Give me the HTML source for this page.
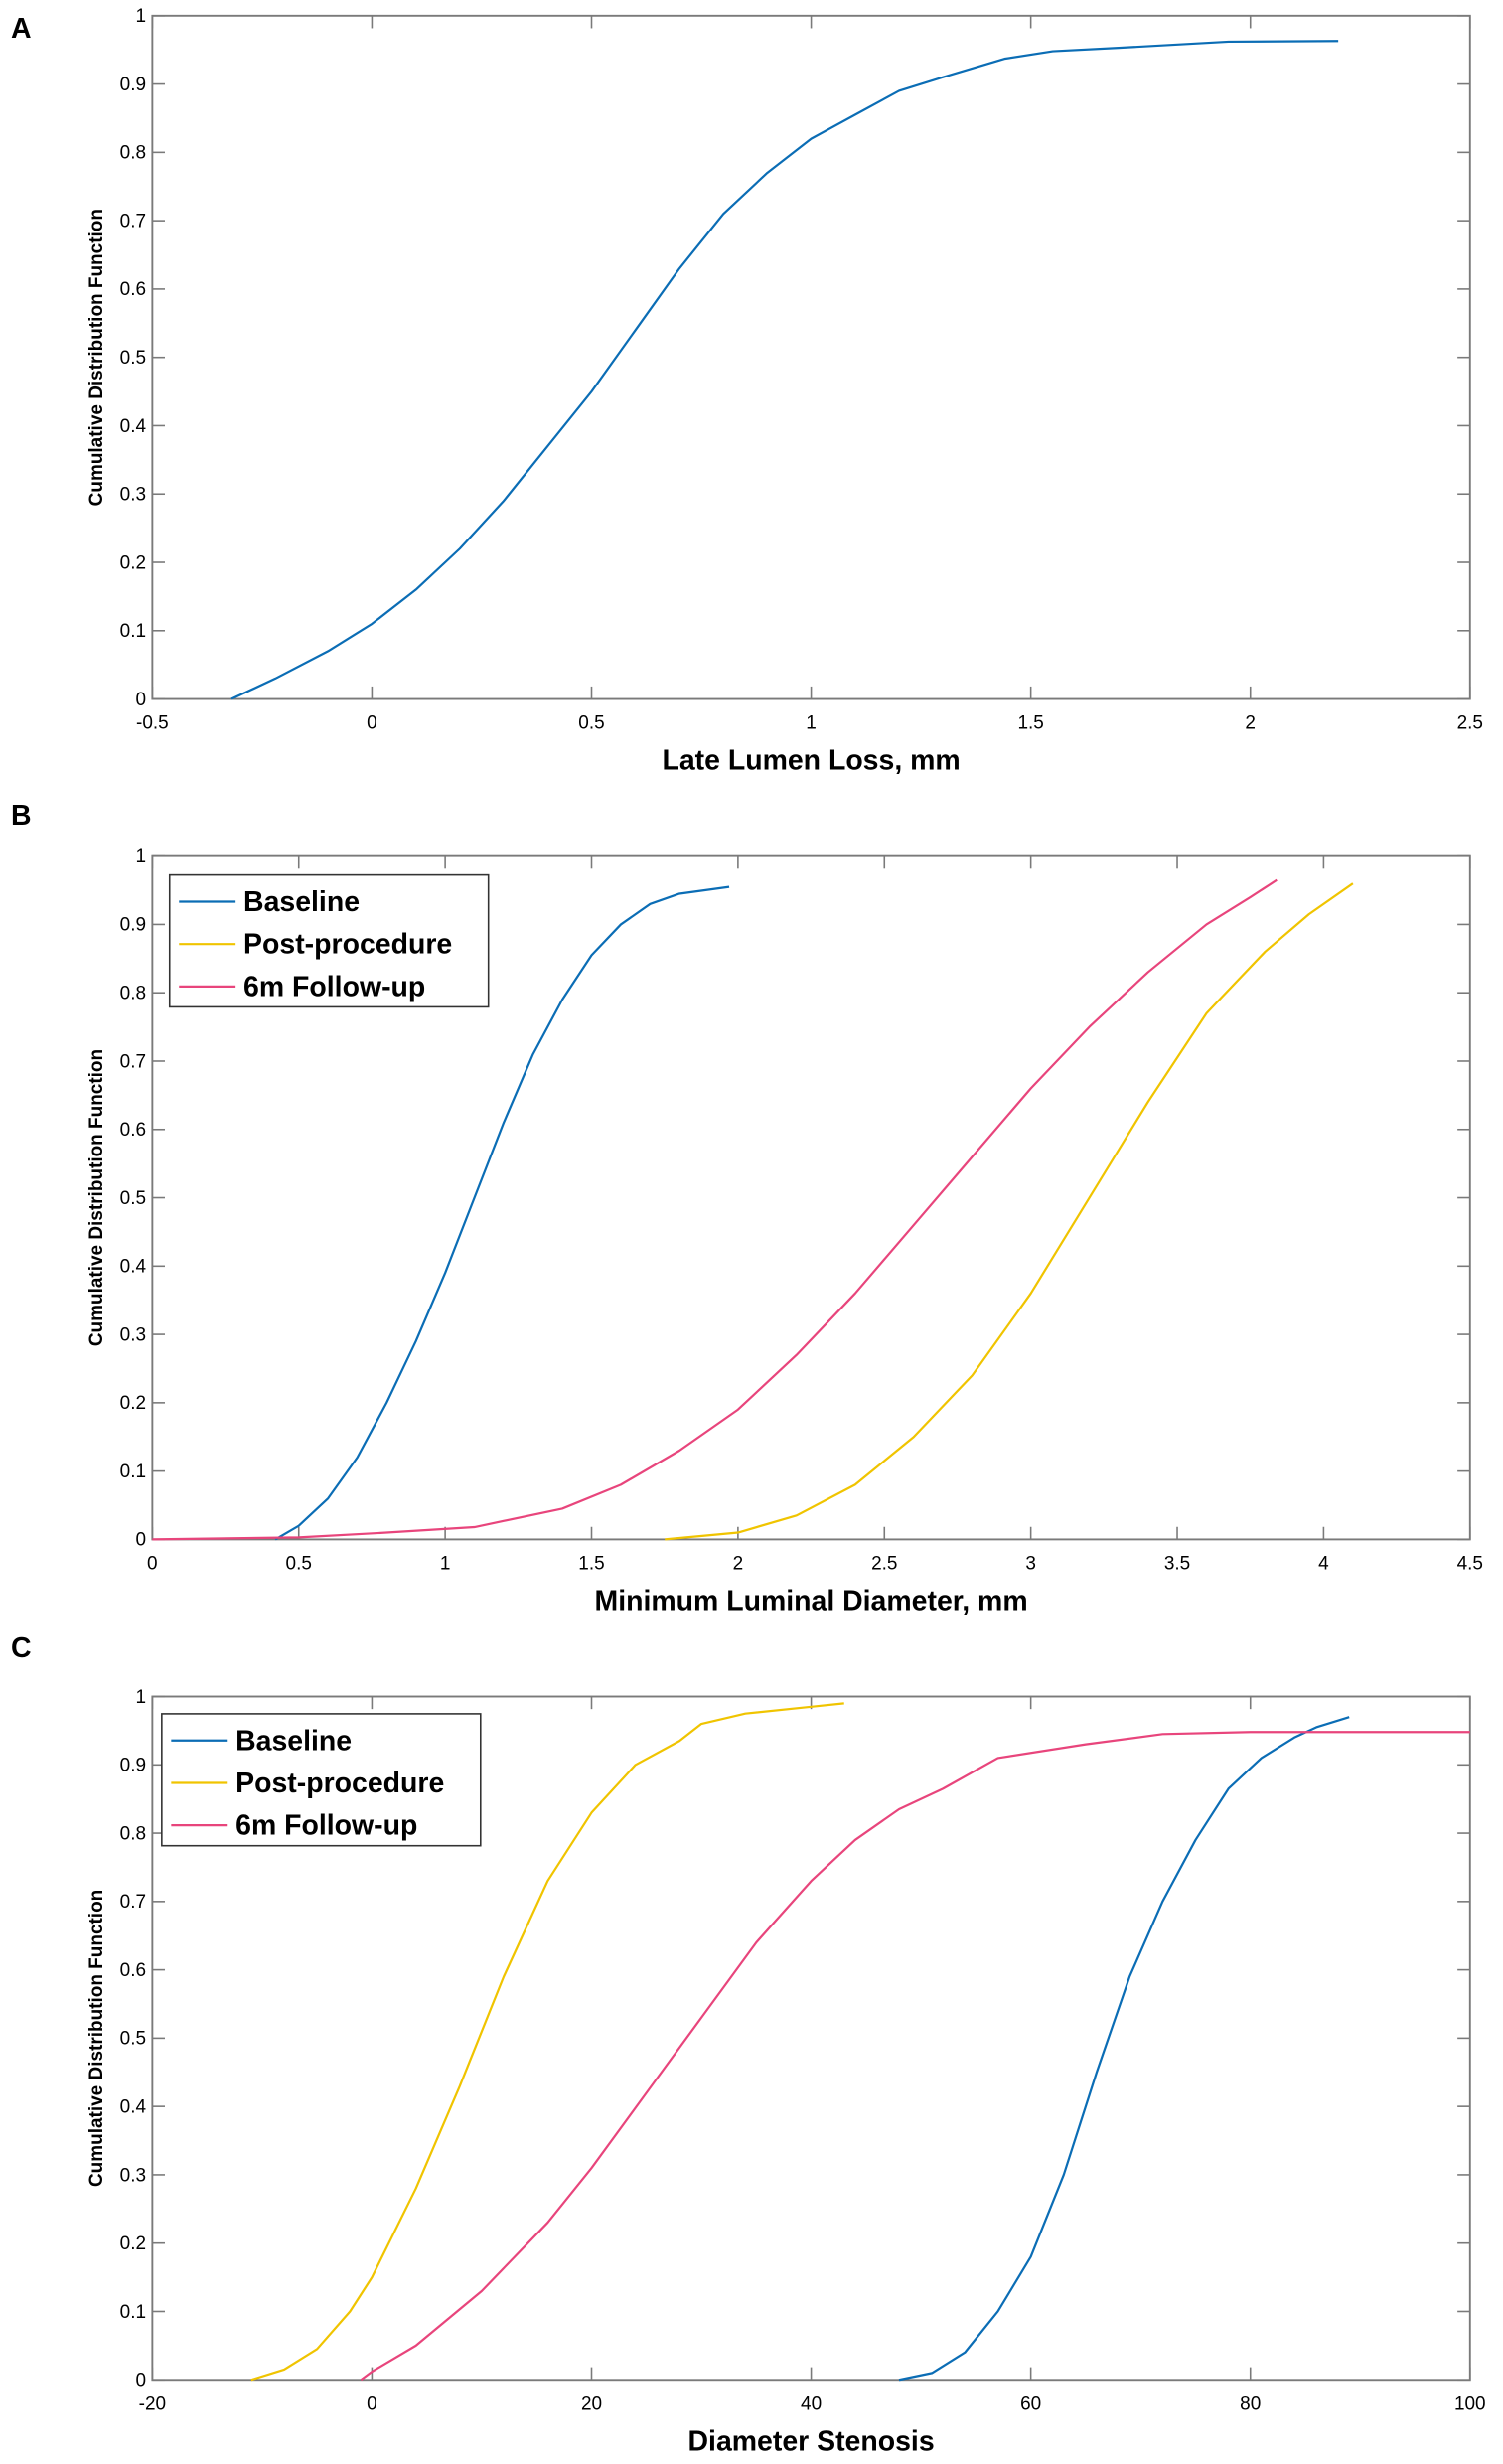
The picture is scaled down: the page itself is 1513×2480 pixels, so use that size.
<!DOCTYPE html>
<html><head><meta charset="utf-8"><style>
html,body{margin:0;padding:0;background:#fff;}
svg{display:block;font-family:"Liberation Sans",Arial,sans-serif;}
</style></head><body>
<svg id="fig" width="1513" height="2480" viewBox="0 0 957 1568.6" preserveAspectRatio="none" xmlns="http://www.w3.org/2000/svg"></svg>
<script>
// Panel A data
const aX = [-0.32,-0.22,-0.1,0,0.1,0.2,0.3,0.4,0.5,0.6,0.7,0.8,0.9,1.0,1.1,1.2,1.3,1.44,1.55,1.7,1.95,2.2];
const aY = [0,0.03,0.07,0.11,0.16,0.22,0.29,0.37,0.45,0.54,0.63,0.71,0.77,0.82,0.855,0.89,0.91,0.937,0.948,0.953,0.962,0.963];
const aXTicks = [-0.5,0,0.5,1,1.5,2,2.5];
// Panel B data
const bBaseX = [0.42,0.5,0.6,0.7,0.8,0.9,1.0,1.1,1.2,1.3,1.4,1.5,1.6,1.7,1.8,1.97];
const bBaseY = [0,0.02,0.06,0.12,0.2,0.29,0.39,0.5,0.61,0.71,0.79,0.855,0.9,0.93,0.945,0.955];
const bPostX = [1.75,2.0,2.2,2.4,2.6,2.8,3.0,3.2,3.4,3.6,3.8,3.95,4.1];
const bPostY = [0,0.01,0.035,0.08,0.15,0.24,0.36,0.5,0.64,0.77,0.86,0.915,0.96];
const bFollowX = [0,0.5,0.8,1.1,1.4,1.6,1.8,2.0,2.2,2.4,2.6,2.8,3.0,3.2,3.4,3.6,3.75,3.84];
const bFollowY = [0,0.003,0.01,0.018,0.045,0.08,0.13,0.19,0.27,0.36,0.46,0.56,0.66,0.75,0.83,0.9,0.94,0.965];
const bXTicks = [0,0.5,1,1.5,2,2.5,3,3.5,4,4.5];
// Panel C data
const cBaseX = [48,51,54,57,60,63,66,69,72,75,78,81,84,86,89];
const cBaseY = [0,0.01,0.04,0.1,0.18,0.3,0.45,0.59,0.7,0.79,0.865,0.91,0.94,0.955,0.97];
const cPostX = [-11,-8,-5,-2,0,4,8,12,16,20,24,28,30,34,40,43];
const cPostY = [0,0.015,0.045,0.1,0.15,0.28,0.43,0.59,0.73,0.83,0.9,0.935,0.96,0.975,0.985,0.99];
const cFollowX = [-1,0,4,10,16,20,25,30,35,40,44,48,52,57,65,72,80,100];
const cFollowY = [0,0.012,0.05,0.13,0.23,0.31,0.42,0.53,0.64,0.73,0.79,0.835,0.865,0.91,0.93,0.945,0.948,0.948];
const cXTicks = [-20,0,20,40,60,80,100];
const yTicks = [0,0.1,0.2,0.3,0.4,0.5,0.6,0.7,0.8,0.9,1];
const seriesNames = ["Baseline","Post-procedure","6m Follow-up"];

const NS="http://www.w3.org/2000/svg";
const svg=document.getElementById('fig');
const BLUE="#0b6db5", YEL="#f0c400", PINK="#e8457c", AX="#7a7a7a";
function mk(tag,attrs,parent){const e=document.createElementNS(NS,tag);for(const k in attrs)e.setAttribute(k,attrs[k]);(parent||svg).appendChild(e);return e;}

function panel(id,letter,letterY,top,xmin,xmax,xTicks,xTitle,series,legend){
  const L=97,R=936,T=top,B=top+435;
  const g=mk('g',{});
  
  
  const sx=v=>L+(v-xmin)/(xmax-xmin)*(R-L);
  const sy=v=>B-v*(B-T);
  const lt=mk('text',{x:7,y:letterY,'font-size':18,'font-weight':'bold'},g);lt.textContent=letter;
  
  
  const box=mk('rect',{x:L,y:T,width:R-L,height:B-T,fill:'none',stroke:AX,'stroke-width':1.2},g);
  
  
  yTicks.forEach(v=>{
    const y=sy(v);
    mk('line',{x1:L,x2:L+8,y1:y,y2:y,stroke:AX,'stroke-width':1},g);
    mk('line',{x1:R,x2:R-8,y1:y,y2:y,stroke:AX,'stroke-width':1},g);
    const t=mk('text',{x:L-4,y:y+4,'font-size':12,'text-anchor':'end'},g);t.textContent=String(v);
    
    
  });
  xTicks.forEach(v=>{
    const x=sx(v);
    mk('line',{x1:x,x2:x,y1:B,y2:B-8,stroke:AX,'stroke-width':1},g);
    mk('line',{x1:x,x2:x,y1:T,y2:T+8,stroke:AX,'stroke-width':1},g);
    const t=mk('text',{x:x,y:B+19,'font-size':12,'text-anchor':'middle'},g);t.textContent=String(v);
    
    
  });
  const yt=mk('text',{x:0,y:0,'font-size':12,'font-weight':'bold','text-anchor':'middle',transform:`translate(65,${(T+B)/2}) rotate(-90)`},g);
  yt.textContent='Cumulative Distribution Function';
  
  
  const xt=mk('text',{x:(L+R)/2,y:B+45,'font-size':18,'font-weight':'bold','text-anchor':'middle'},g);
  xt.textContent=xTitle;
  
  
  series.forEach(s=>{
    const d=s.x.map((v,i)=>(i?'L':'M')+sx(v).toFixed(2)+','+sy(s.y[i]).toFixed(2)).join(' ');
    const p=mk('path',{d:d,fill:'none',stroke:s.c,'stroke-width':1.4,'stroke-linejoin':'round'},g);
    
    
  });
  if(legend){
    const lg=mk('g',{},g);
    
    
    mk('rect',{x:legend.x,y:legend.y,width:203,height:84,fill:'#fff',stroke:'#333','stroke-width':1},lg);
    [BLUE,YEL,PINK].forEach((c,i)=>{
      const yy=legend.y+17+i*27;
      mk('line',{x1:legend.x+6,x2:legend.x+42,y1:yy,y2:yy,stroke:c,'stroke-width':1.4},lg);
      const t=mk('text',{x:legend.x+47,y:yy+6,'font-size':18,'font-weight':'bold'},lg);t.textContent=seriesNames[i];
      
      
    });
  }
}
panel('a','A',24,10,-0.5,2.5,aXTicks,'Late Lumen Loss, mm',[{x:aX,y:aY,c:BLUE,n:'late-lumen-loss-line'}],null);
panel('b','B',525,545,0,4.5,bXTicks,'Minimum Luminal Diameter, mm',[
  {x:bBaseX,y:bBaseY,c:BLUE,n:'baseline-line'},
  {x:bPostX,y:bPostY,c:YEL,n:'post-procedure-line'},
  {x:bFollowX,y:bFollowY,c:PINK,n:'follow-up-line'}],{x:108,y:557});
panel('c','C',1055,1080,-20,100,cXTicks,'Diameter Stenosis',[
  {x:cBaseX,y:cBaseY,c:BLUE,n:'baseline-line'},
  {x:cPostX,y:cPostY,c:YEL,n:'post-procedure-line'},
  {x:cFollowX,y:cFollowY,c:PINK,n:'follow-up-line'}],{x:103,y:1091});
</script>
</body></html>
